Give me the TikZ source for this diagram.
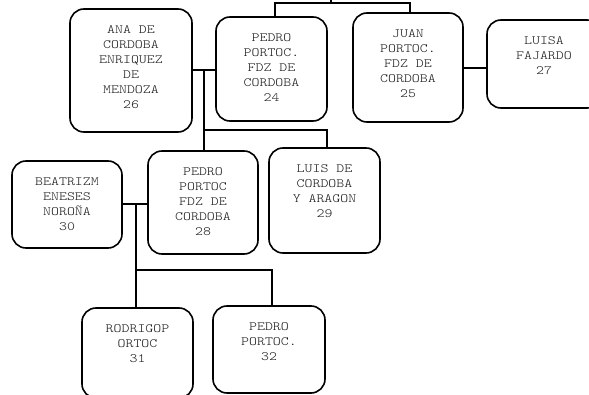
\documentclass[tikz,border=0pt]{standalone}
\usepackage{fontspec}
\newfontfamily\cardfont{lmmonolt10-regular}[Extension=.otf, FakeStretch=1.2]
\begin{document}
\begin{tikzpicture}[x=1pt,y=-1pt,
  card/.style={draw=black, line width=1.6pt, rounded corners=14pt, inner sep=0pt, fill=white},
  cardtext/.style={anchor=north, align=center, inner sep=0pt, text=black!90,
    font=\cardfont\fontsize{12.6}{15}\selectfont},
  link/.style={draw=black, line width=1.6pt}]
% a card: name, left, top, right, bottom, text
\newcommand\famcard[6]{%
  \node[card, minimum width={(#4)-(#2)}, minimum height={(#5)-(#3)}]
    (#1) at ({(#2+#4)/2},{(#3+#5)/2}) {};
  \node[cardtext] (#1-t) at ([yshift=-17pt]#1.north) {#6};
}
\clip (0,0) rectangle (589,395);
\fill[white] (0,0) rectangle (589,395);

% cards
\famcard{ana}{70}{9}{192}{132}{ANA DE\\CORDOBA\\ENRIQUEZ\\DE\\MENDOZA\\26}
\famcard{p24}{216}{17}{327}{121}{PEDRO\\PORTOC.\\FDZ DE\\CORDOBA\\24}
\famcard{juan}{353}{13}{463}{122}{JUAN\\PORTOC.\\FDZ DE\\CORDOBA\\25}
\famcard{luisa}{487}{20}{601}{108}{LUISA\\FAJARDO\\27}
\famcard{bea}{12}{161}{122}{248}{BEATRIZM\\ENESES\\NOROÑA\\30}
\famcard{p28}{148}{151}{258}{254}{PEDRO\\PORTOC\\FDZ DE\\CORDOBA\\28}
\famcard{luis}{269}{148}{380}{253}{LUIS DE\\CORDOBA\\Y ARAGON\\29}
\famcard{rod}{82}{308}{193}{398}{RODRIGOP\\ORTOC\\31}
\famcard{p32}{213}{306}{325}{393}{PEDRO\\PORTOC.\\32}

% junction points
\coordinate (par) at (331,3);
\coordinate (s1l) at (275,3);
\coordinate (s1r) at (410,3);
\coordinate (m1) at (204,70);
\coordinate (b1l) at (204,130);
\coordinate (b1r) at (327,130);
\coordinate (m3) at (475,68);
\coordinate (m2) at (136,204);
\coordinate (b2l) at (136,270);
\coordinate (b2r) at (272,270);

% siblings 24 and 25
\draw[link] (s1l |- p24.north) -- (s1l) -- (s1r) -- (s1r |- juan.north);
\draw[link] (par) -- ++(0,-10);
% couple 24 + 26 and their children
\draw[link] (ana.east |- m1) -- (p24.west |- m1);
\draw[link] (m1) -- (m1 |- p28.north);
\draw[link] (b1l) -- (b1r) -- (b1r |- luis.north);
% couple 25 + 27
\draw[link] (juan.east |- m3) -- (luisa.west |- m3);
% couple 28 + 30 and their children
\draw[link] (bea.east |- m2) -- (p28.west |- m2);
\draw[link] (m2) -- (m2 |- rod.north);
\draw[link] (b2l) -- (b2r) -- (b2r |- p32.north);
\end{tikzpicture}
\end{document}
